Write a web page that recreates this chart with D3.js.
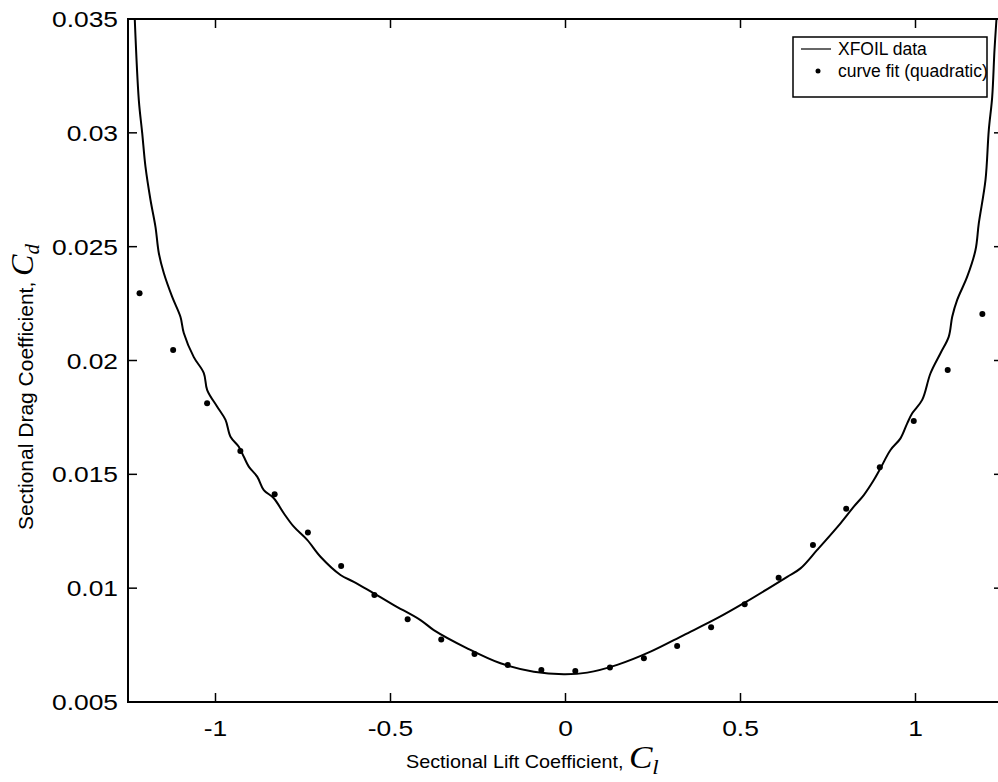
<!DOCTYPE html>
<html>
<head>
<meta charset="utf-8">
<script src="https://cdn.jsdelivr.net/npm/d3@7"></script>
<style>
  html, body { margin: 0; padding: 0; background: #fff; }
  svg { display: block; }
  text { font-family: "Liberation Sans", Arial, Helvetica, sans-serif; fill: #000; }
</style>
</head>
<body>
<svg id="chart" width="998" height="782"></svg>
<script>
// XFOIL drag polar
const xfoilCl = [-1.2306, -1.2191, -1.2094, -1.2, -1.1857, -1.1714, -1.162, -1.1477, -1.1237, -1.1,
  -1.0906, -1.062, -1.0334, -1.0237, -0.9951, -0.9714, -0.9571, -0.9334, -0.9191, -0.9049,
  -0.8809, -0.862, -0.8334, -0.8049, -0.7763, -0.738, -0.7, -0.6429, -0.6049, -0.5477,
  -0.4906, -0.4143, -0.3763, -0.2809, -0.1857, -0.0906, -0.0049, 0.062, 0.1477, 0.2429,
  0.338, 0.4334, 0.5094, 0.6334, 0.6714, 0.7191, 0.7857, 0.8237, 0.8523, 0.8809,
  0.9, 0.9286, 0.9571, 0.9763, 0.9906, 1.0191, 1.0429, 1.0714, 1.0951, 1.1049,
  1.1191, 1.1477, 1.1714, 1.1809, 1.2, 1.2094, 1.2191, 1.2257, 1.2314];
const xfoilCd = [0.03496, 0.03144, 0.02999, 0.0285, 0.02705, 0.02586, 0.02472, 0.02384, 0.02279, 0.02191,
  0.02121, 0.02015, 0.01945, 0.0187, 0.01797, 0.01739, 0.01665, 0.01621, 0.01577, 0.01534,
  0.0149, 0.01431, 0.01395, 0.01329, 0.0127, 0.01212, 0.01138, 0.01058, 0.01028, 0.00977,
  0.00926, 0.0086, 0.00816, 0.00736, 0.0067, 0.00633, 0.00622, 0.00629, 0.00663, 0.00721,
  0.00794, 0.00868, 0.00934, 0.0105, 0.01087, 0.01168, 0.01285, 0.01358, 0.01409, 0.01475,
  0.01527, 0.01607, 0.01658, 0.01724, 0.01768, 0.01827, 0.01944, 0.02032, 0.02105, 0.02192,
  0.02266, 0.02368, 0.02485, 0.02603, 0.02793, 0.03012, 0.03157, 0.03364, 0.035];

// quadratic curve fit points
const fitCl = [-1.217, -1.121, -1.024, -0.929, -0.831, -0.736, -0.641, -0.546, -0.451, -0.355,
  -0.26, -0.165, -0.069, 0.028, 0.127, 0.224, 0.319, 0.416, 0.512, 0.609,
  0.707, 0.802, 0.898, 0.995, 1.092, 1.191];
const fitCd = [0.02295, 0.02046, 0.01812, 0.01603, 0.01412, 0.01244, 0.01097, 0.0097, 0.00863, 0.00775,
  0.00711, 0.00663, 0.00641, 0.00636, 0.00652, 0.00692, 0.00746, 0.00828, 0.00929, 0.01046,
  0.0119, 0.01349, 0.01531, 0.01734, 0.01958, 0.02204];

const xTicks = [-1, -0.5, 0, 0.5, 1];
const xTickLabels = ["-1", "-0.5", "0", "0.5", "1"];
const yTicks = [0.005, 0.01, 0.015, 0.02, 0.025, 0.03, 0.035];
const yTickLabels = ["0.005", "0.01", "0.015", "0.02", "0.025", "0.03", "0.035"];
const legendLabels = ["XFOIL data", "curve fit (quadratic)"];

const svg = d3.select("#chart"),
  margin = { top: 19, left: 128 },
  plotWidth = 875,
  plotHeight = 683;

const g = svg.append("g").attr("transform", `translate(${margin.left},${margin.top})`);

const x = d3.scaleLinear().domain([-1.25, 1.25]).range([0, plotWidth]);
const y = d3.scaleLinear().domain([0.005, 0.035]).range([plotHeight, 0]);

const tickLen = 9;
const stretch = 1.2; // the scanned lettering is a bit wide

// frame
g.append("rect")
  .attr("width", plotWidth).attr("height", plotHeight)
  .attr("fill", "none").attr("stroke", "#000").attr("stroke-width", 2);

// ticks pointing inward, all four sides
xTicks.forEach(t => {
  g.append("line").attr("x1", x(t)).attr("x2", x(t)).attr("y1", plotHeight).attr("y2", plotHeight - tickLen)
    .attr("stroke", "#000").attr("stroke-width", 1.5);
  g.append("line").attr("x1", x(t)).attr("x2", x(t)).attr("y1", 0).attr("y2", tickLen)
    .attr("stroke", "#000").attr("stroke-width", 1.5);
});
yTicks.forEach(t => {
  g.append("line").attr("x1", 0).attr("x2", tickLen).attr("y1", y(t)).attr("y2", y(t))
    .attr("stroke", "#000").attr("stroke-width", 1.5);
  g.append("line").attr("x1", plotWidth).attr("x2", plotWidth - tickLen).attr("y1", y(t)).attr("y2", y(t))
    .attr("stroke", "#000").attr("stroke-width", 1.5);
});

// tick labels
g.selectAll(".xlab").data(xTicks).enter().append("text")
  .attr("class", "xlab")
  .attr("transform", d => `translate(${x(d)},${plotHeight + 34}) scale(${stretch},1)`)
  .attr("text-anchor", "middle").attr("font-size", 22)
  .text((d, i) => xTickLabels[i]);

g.selectAll(".ylab").data(yTicks).enter().append("text")
  .attr("class", "ylab")
  .attr("transform", d => `translate(-10,${y(d) + 8}) scale(${stretch},1)`)
  .attr("text-anchor", "end").attr("font-size", 22)
  .text((d, i) => yTickLabels[i]);

// XFOIL curve
const xfoil = xfoilCl.map((c, i) => ({ cl: c, cd: xfoilCd[i] }));
const line = d3.line().x(d => x(d.cl)).y(d => y(d.cd)).curve(d3.curveCatmullRom.alpha(0.5));

g.append("path")
  .datum(xfoil)
  .attr("d", line)
  .attr("fill", "none").attr("stroke", "#000").attr("stroke-width", 2);

// fit dots
const fit = fitCl.map((c, i) => ({ cl: c, cd: fitCd[i] }));
g.selectAll(".dot").data(fit).enter().append("circle")
  .attr("class", "dot")
  .attr("cx", d => x(d.cl)).attr("cy", d => y(d.cd)).attr("r", 3)
  .attr("fill", "#000");

// legend
const leg = svg.append("g").attr("transform", "translate(793,37)");
leg.append("rect").attr("width", 194).attr("height", 60)
  .attr("fill", "#fff").attr("stroke", "#000").attr("stroke-width", 1.5);
leg.append("line").attr("x1", 8).attr("x2", 38).attr("y1", 12).attr("y2", 12)
  .attr("stroke", "#000").attr("stroke-width", 1.2);
leg.append("circle").attr("cx", 25).attr("cy", 34).attr("r", 2.5).attr("fill", "#000");
leg.selectAll(".lt").data(legendLabels).enter().append("text")
  .attr("class", "lt")
  .attr("x", 45).attr("y", (d, i) => 18 + i * 22)
  .attr("font-size", 17.5)
  .text(d => d);

// axis titles
const serif = "'Liberation Serif', 'DejaVu Serif', serif";
const xt = svg.append("text").attr("transform", "translate(406,768) scale(1.1,1)").attr("font-size", 18);
xt.append("tspan").text("Sectional Lift Coefficient, ");
xt.append("tspan").attr("font-family", serif).attr("font-style", "italic").attr("font-size", 32).text("C");
xt.append("tspan").attr("font-family", serif).attr("font-style", "italic").attr("font-size", 21).attr("dy", 6).text("l");

const yt = svg.append("text").attr("transform", "translate(33,530) rotate(-90)").attr("font-size", 21);
yt.append("tspan").text("Sectional Drag Coefficient, ");
yt.append("tspan").attr("font-family", serif).attr("font-style", "italic").attr("font-size", 32).text("C");
yt.append("tspan").attr("font-family", serif).attr("font-style", "italic").attr("font-size", 21).attr("dy", 6).text("d");
</script>
</body>
</html>
